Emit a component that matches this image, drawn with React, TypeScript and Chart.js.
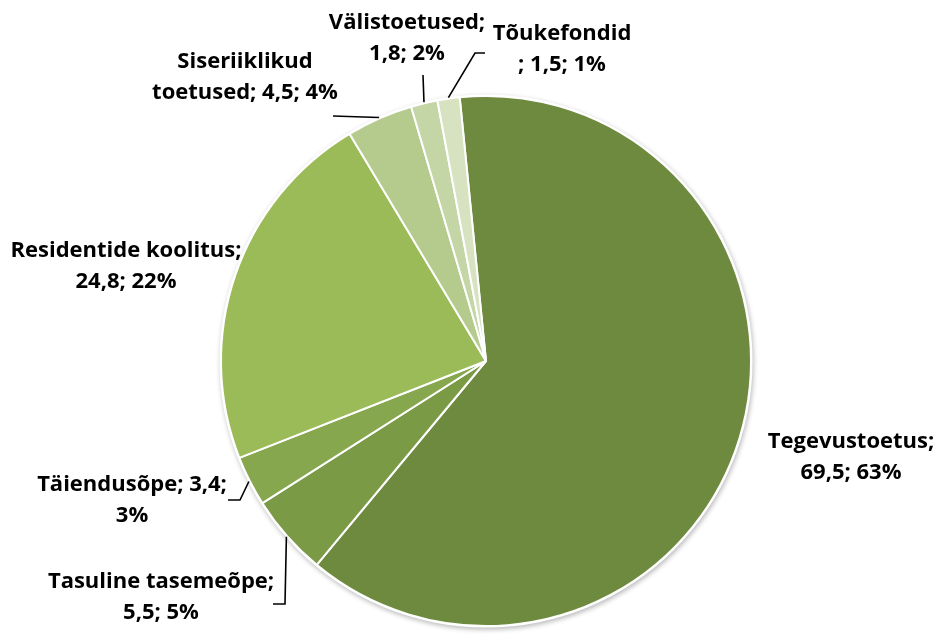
import React, { useEffect, useRef } from "react";
import { Chart, registerables } from "chart.js";

Chart.register(...registerables);

const categories = [
  "Tegevustoetus",
  "Tasuline tasemeõpe",
  "Täiendusõpe",
  "Residentide koolitus",
  "Siseriiklikud toetused",
  "Välistoetused",
  "Tõukefondid",
];
const values = [69.5, 5.5, 3.4, 24.8, 4.5, 1.8, 1.5];
const colors = ["#6E8A3E", "#7B9A45", "#87A74E", "#9BBB59", "#B5CA8D", "#C4D5A6", "#D6E2C0"];

// label layout: text centre offset from pie centre, split char index, leader elbow points
const labelLayout = [
  { dx: 365, dy: 81, split: 14, leader: [] as number[][] },
  { dx: -325, dy: 221, split: 19, leader: [[-201, 243], [-213, 243]] },
  { dx: -354, dy: 124, split: 17, leader: [[-246, 139], [-258, 139]] },
  { dx: -360, dy: -110, split: 21, leader: [] },
  { dx: -241, dy: -299, split: 13, leader: [[-153, -245]] },
  { dx: -79, dy: -338, split: 14, leader: [[-63, -286]] },
  { dx: 76, dy: -327, split: 11, leader: [[-11, -308], [-1, -308]] },
];

const FONT = "bold 22px 'Open Sans', Lato, sans-serif";
const LINE_GAP = 31;

const shadowPlugin = {
  id: "pieShadow",
  beforeDatasetsDraw(chart: any) {
    const meta = chart.getDatasetMeta(0);
    const arc = meta.data[0];
    if (!arc) return;
    const { x, y, outerRadius } = arc.getProps(["x", "y", "outerRadius"], true);
    const ctx = chart.ctx;
    ctx.save();
    ctx.beginPath();
    ctx.arc(x, y, outerRadius + 1.5, 0, Math.PI * 2);
    ctx.fillStyle = "#FFFFFF";
    ctx.shadowColor = "rgba(0,0,0,0.28)";
    ctx.shadowBlur = 5;
    ctx.shadowOffsetX = 1;
    ctx.shadowOffsetY = 2;
    ctx.fill();
    ctx.restore();
  },
};

const labelPlugin = {
  id: "pieLabels",
  afterDatasetsDraw(chart: any) {
    const ctx = chart.ctx;
    const meta = chart.getDatasetMeta(0);
    const total = values.reduce((a, b) => a + b, 0);
    ctx.save();
    meta.data.forEach((arc: any, i: number) => {
      const { x, y, startAngle, endAngle, outerRadius } = arc.getProps(
        ["x", "y", "startAngle", "endAngle", "outerRadius"],
        true
      );
      const lay = labelLayout[i];
      const v = values[i];
      const pct = Math.round((v / total) * 100);
      const full = `${categories[i]}; ${v.toFixed(1).replace(".", ",")}; ${pct}%`;
      const l1 = full.slice(0, lay.split).trim();
      const l2 = full.slice(lay.split).trim();
      if (lay.leader.length) {
        const mid = (startAngle + endAngle) / 2;
        ctx.beginPath();
        ctx.strokeStyle = "#000000";
        ctx.lineWidth = 1.6;
        ctx.moveTo(x + Math.cos(mid) * (outerRadius + 1), y + Math.sin(mid) * (outerRadius + 1));
        lay.leader.forEach((p) => ctx.lineTo(x + p[0], y + p[1]));
        ctx.stroke();
      }
      ctx.font = FONT;
      ctx.fillStyle = "#000000";
      ctx.textAlign = "center";
      ctx.textBaseline = "middle";
      ctx.fillText(l1, x + lay.dx, y + lay.dy);
      ctx.fillText(l2, x + lay.dx, y + lay.dy + LINE_GAP);
    });
    ctx.restore();
  },
};

export default function App() {
  const ref = useRef<HTMLCanvasElement>(null);
  useEffect(() => {
    if (!ref.current) return;
    const chart = new Chart(ref.current, {
      type: "pie",
      data: {
        labels: categories,
        datasets: [
          {
            data: values,
            backgroundColor: colors,
            borderColor: "#FFFFFF",
            borderWidth: 2,
          },
        ],
      },
      options: {
        animation: false,
        responsive: false,
        rotation: -5.7,
        radius: 265,
        layout: { padding: { left: 216, right: 183, top: 91, bottom: 69 } },
        plugins: {
          legend: { display: false },
          tooltip: { enabled: false },
        },
      },
      plugins: [shadowPlugin, labelPlugin],
    });
    return () => chart.destroy();
  }, []);
  return (
    <div
      style={{
        position: "absolute",
        left: 0,
        top: 0,
        width: 939,
        height: 634,
        overflow: "hidden",
        background: "#FFFFFF",
      }}
    >
      <canvas ref={ref} width={939} height={700} style={{ display: "block" }} />
    </div>
  );
}
